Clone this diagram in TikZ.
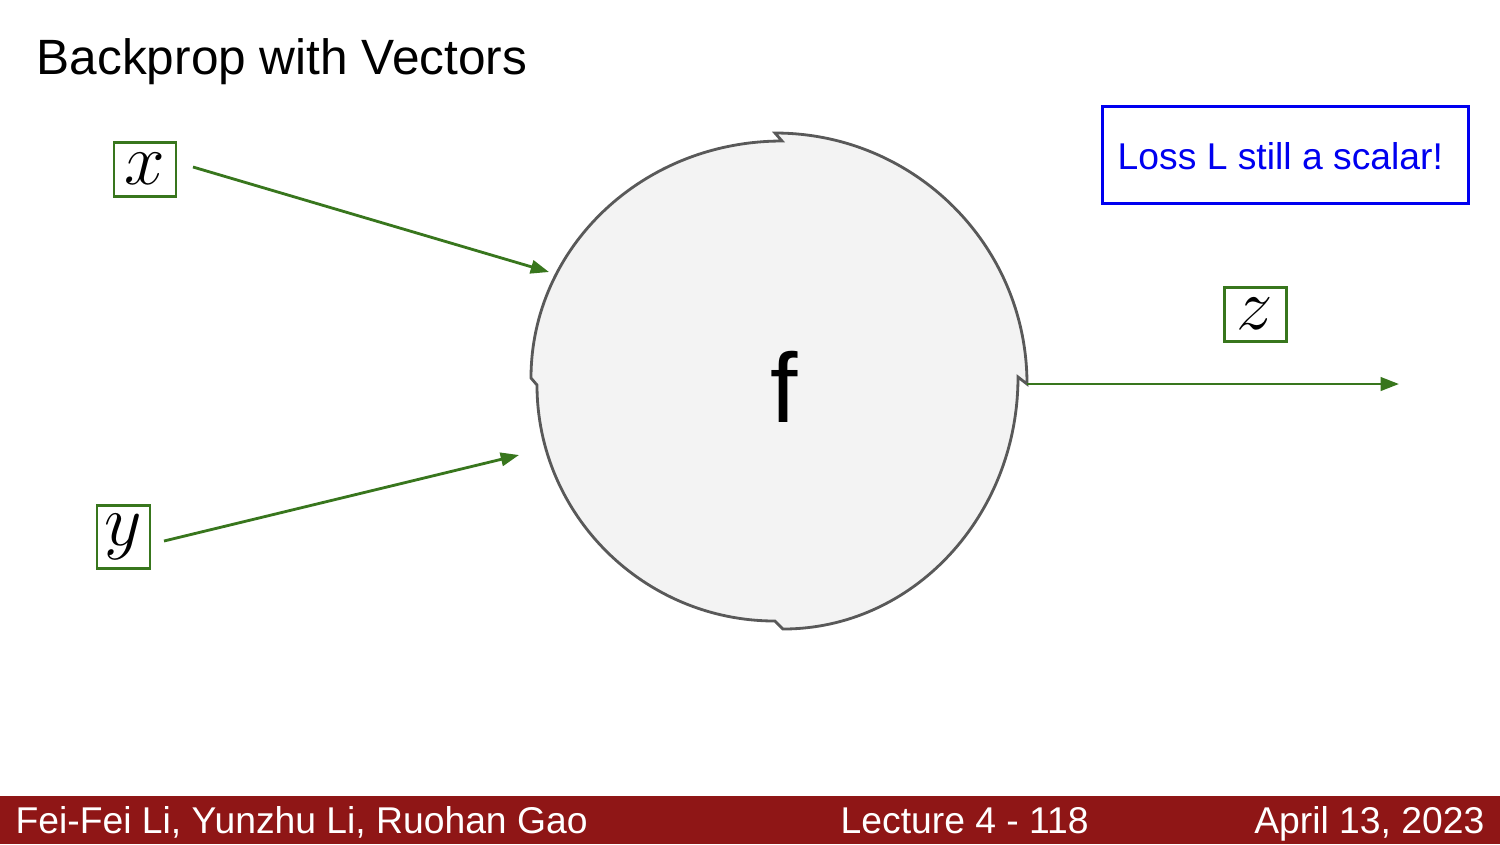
\documentclass[tikz,border=0pt]{standalone}
\usepackage{fontspec}
\setmainfont{Liberation Sans}
\usetikzlibrary{arrows.meta}
\definecolor{sgreen}{HTML}{38761D}
\definecolor{cgray}{HTML}{595959}
\definecolor{cfill}{HTML}{F3F3F3}
\definecolor{footred}{HTML}{8F1616}
\definecolor{lossblue}{HTML}{0000F0}
\tikzset{
  varbox/.style={draw=sgreen, line width=0.85pt, fill=white, inner sep=0pt, font=\fontsize{20}{22}\selectfont},
  flow/.style={draw=sgreen, line width=0.8pt, -{Triangle[length=5.2pt,width=3.8pt]}},
  foottext/.style={text=white, inner sep=0pt, font=\fontsize{10.6}{12}\selectfont},
}
\begin{document}
\begin{tikzpicture}[x=0.01cm,y=-0.01cm]
\useasboundingbox (0,0) rectangle (1500,844);
\fill[white] (0,0) rectangle (1500,844);
% title
\node[anchor=base west, inner sep=0pt, font=\fontsize{14.1}{16}\selectfont] (title) at (36,74) {Backprop with Vectors};
% circle (hand-drawn quarters)
\path[draw=cgray, fill=cfill, line width=0.8pt, line join=miter]
  (775,133) .. controls (914,133) and (1027,245) .. (1027,384) -- (1018,377)
  .. controls (1018,516) and (913,629) .. (783,629) -- (775,621)
  .. controls (644,621) and (537,515) .. (537,385) -- (531,378)
  .. controls (531,247) and (643,141) .. (782,141) -- cycle;
\node[anchor=base, inner sep=0pt, font=\fontsize{28}{30}\selectfont] (f) at (784,422) {f};
% variable boxes
\node[varbox, minimum width=62*0.01cm, minimum height=54*0.01cm] (x) at (145,169) {$x$};
\node[varbox, minimum width=53*0.01cm, minimum height=63*0.01cm] (y) at (123.5,536.5) {$y$};
\node[varbox, minimum width=62*0.01cm, minimum height=54*0.01cm] (z) at (1255,314) {$z$};
% connector end points
\coordinate (xs) at (193,167);
\coordinate (xe) at (549,272);
\coordinate (ys) at (164,541);
\coordinate (ye) at (519,455);
\coordinate (zs) at (1027,384);
\coordinate (ze) at (1399,384);
\draw[flow] (xs) -- (xe);
\draw[flow] (ys) -- (ye);
\draw[flow] (zs) -- (ze);
% loss box
\node[draw=lossblue, line width=0.85pt, minimum width=366*0.01cm, minimum height=97*0.01cm, inner sep=0pt] (lossbox) at (1285,154.5) {};
\node[anchor=base west, inner sep=0pt, text=lossblue, font=\fontsize{10.6}{12}\selectfont] (loss) at (1117,169) {Loss L still a scalar!};
% footer
\fill[footred] (0,796) rectangle (1500,844);
\node[foottext, anchor=base west] (authors) at (15,833) {Fei-Fei Li, Yunzhu Li, Ruohan Gao};
\node[foottext, anchor=base west] (lecture) at (840,833) {Lecture 4 - 118};
\node[foottext, anchor=base east] (date) at (1485,833) {April 13, 2023};
\end{tikzpicture}
\end{document}
